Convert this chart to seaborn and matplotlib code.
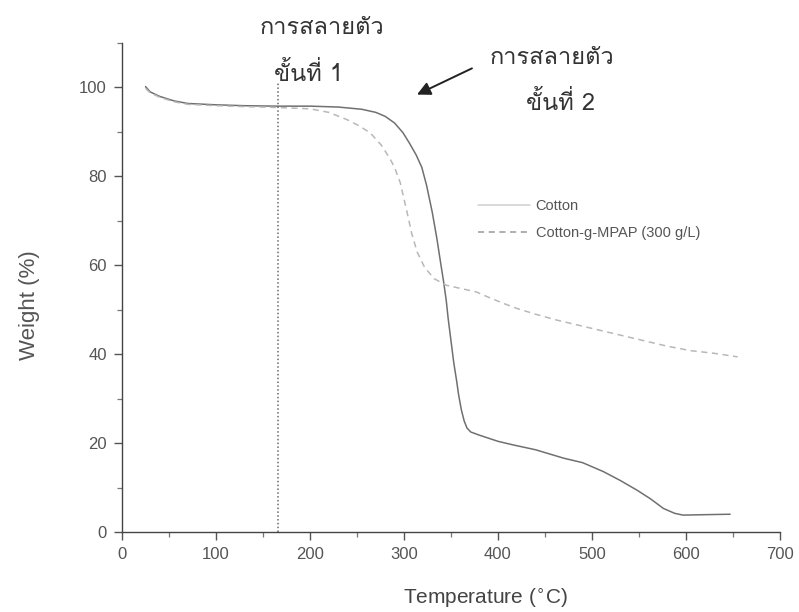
import numpy as np
import pandas as pd
import matplotlib
matplotlib.use("Agg")
import matplotlib.pyplot as plt
from matplotlib import font_manager
from matplotlib.ticker import MultipleLocator
import seaborn as sns

# TGA curves: temperature (°C) and remaining weight (%)
cotton_temp = [25, 30, 40, 55, 70, 100, 130, 165, 200, 230, 255, 270, 280, 290,
               299, 306, 313, 319, 324, 330, 335, 339, 342, 345, 347, 350, 353,
               356, 358, 361, 364, 367, 371, 380, 400, 416, 440, 470, 490, 512,
               530, 548, 562, 576, 588, 597, 620, 647]
cotton_weight = [100.2, 99.0, 98.0, 97.0, 96.4, 96.1, 95.9, 95.8, 95.8, 95.6,
                 95.1, 94.4, 93.5, 92.0, 89.8, 87.4, 84.8, 82.0, 78.0, 72.0,
                 66.0, 60.5, 56.5, 52.0, 48.0, 43.0, 38.0, 34.0, 31.0, 27.5,
                 25.0, 23.4, 22.5, 21.8, 20.4, 19.6, 18.5, 16.6, 15.6, 13.6,
                 11.6, 9.4, 7.5, 5.3, 4.2, 3.8, 3.9, 4.0]

mpap_temp = [25, 30, 40, 55, 70, 100, 130, 165, 200, 220, 239, 252, 264, 276,
             285, 290, 296, 301, 305, 308, 314, 322, 332, 345, 360, 377, 390,
             405, 420, 440, 462, 490, 520, 550, 580, 605, 630, 655]
mpap_weight = [99.8, 98.8, 97.8, 96.8, 96.2, 95.9, 95.7, 95.5, 95.2, 94.4,
               92.8, 91.4, 89.8, 87.0, 84.0, 82.0, 78.6, 74.0, 70.3, 67.3,
               63.0, 59.5, 57.0, 55.5, 54.8, 54.0, 52.8, 51.5, 50.3, 49.0,
               47.7, 46.3, 44.8, 43.3, 41.8, 40.8, 40.2, 39.4]

series_labels = ["Cotton", "Cotton-g-MPAP (300 g/L)"]
stage_temp = 166          # boundary between the two decomposition stages
stage1_label = ["การสลายตัว", "ขั้นที่ 1"]
stage2_label = ["การสลายตัว", "ขั้นที่ 2"]

x_ticks = [0, 100, 200, 300, 400, 500, 600, 700]
y_ticks = [0, 20, 40, 60, 80, 100]


def find_thai_family():
    """Return the name of an installed font that covers Thai script."""
    try:
        from fontTools.ttLib import TTFont
    except Exception:
        return "DejaVu Sans"
    for entry in font_manager.fontManager.ttflist:
        try:
            font = TTFont(entry.fname, fontNumber=0, lazy=True)
            cmap = font.getBestCmap() or {}
            if 0x0E01 in cmap and 0x0E31 in cmap and 0x0E49 in cmap:
                return entry.name
        except Exception:
            continue
    return "DejaVu Sans"


sns.set_theme(style="ticks")
plt.rcParams["font.family"] = ["Liberation Sans", "DejaVu Sans"]
thai_family = find_thai_family()
narrow = ["Liberation Sans Narrow", "Liberation Sans", "DejaVu Sans"]

df_cotton = pd.DataFrame({"T": cotton_temp, "W": cotton_weight})
df_mpap = pd.DataFrame({"T": mpap_temp, "W": mpap_weight})

fig = plt.figure(figsize=(7.99, 6.12), dpi=100)
ax = fig.add_axes([0.1527, 0.1307, 0.8235, 0.799])

sns.lineplot(data=df_cotton, x="T", y="W", ax=ax, sort=False, estimator=None,
             color="#707070", linewidth=1.1, label=series_labels[0])
sns.lineplot(data=df_mpap, x="T", y="W", ax=ax, sort=False, estimator=None,
             color="#b8b8b8", linewidth=1.1, linestyle=(0, (4, 3)),
             label=series_labels[1])

# stage boundary
ax.axvline(stage_temp, ymin=0, ymax=101 / 110, color="#6a6a6a",
           linestyle=(0, (1, 1.5)), linewidth=1.1)

ax.set_xlim(0, 700)
ax.set_ylim(0, 110)
ax.set_xticks(x_ticks)
ax.set_yticks(y_ticks)
ax.xaxis.set_minor_locator(MultipleLocator(50))
ax.yaxis.set_minor_locator(MultipleLocator(10))
ax.tick_params(which="major", direction="out", length=6, width=1,
               color="#555555", labelcolor="#555555", labelsize=12, pad=5)
ax.tick_params(which="minor", direction="out", length=3.5, width=0.9,
               color="#777777")
for lab in ax.get_xticklabels() + ax.get_yticklabels():
    lab.set_family(narrow)

for side in ("top", "right"):
    ax.spines[side].set_visible(False)
for side in ("left", "bottom"):
    ax.spines[side].set_color("#444444")
    ax.spines[side].set_linewidth(1.0)

ax.set_xlabel("Temperature ($^{\\circ}$C)", fontsize=15, color="#444444",
              family=narrow)
ax.xaxis.set_label_coords(0.552, -0.112)
ax.set_ylabel("Weight (%)", fontsize=16, color="#555555")
ax.yaxis.set_label_coords(-0.125, 0.464)

# decomposition stage annotations
thai = [thai_family, "DejaVu Sans"]
ax.text(213, 113.5, stage1_label[0], ha="center", va="center", fontsize=17,
        color="#333333", family=thai, clip_on=False)
ax.text(198, 103, stage1_label[1], ha="center", va="center", fontsize=17,
        color="#333333", family=thai, clip_on=False)
ax.text(457, 106.8, stage2_label[0], ha="center", va="center", fontsize=17,
        color="#333333", family=thai, clip_on=False)
ax.text(466, 96.6, stage2_label[1], ha="center", va="center", fontsize=17,
        color="#333333", family=thai, clip_on=False)
ax.annotate("", xy=(313.8, 98.4), xytext=(372.3, 104.3),
            arrowprops=dict(arrowstyle="-|>", color="#222222", lw=1.4,
                            mutation_scale=20, shrinkA=0, shrinkB=0),
            annotation_clip=False)

leg = ax.legend(loc="center left", bbox_to_anchor=(0.541, 0.639),
                frameon=False, fontsize=10.5, handlelength=3.6,
                handletextpad=0.35, labelspacing=0.85, borderpad=0,
                borderaxespad=0)
for txt in leg.get_texts():
    txt.set_color("#555555")
leg.get_lines()[0].set_color("#d0d0d0")
leg.get_lines()[1].set_color("#9a9a9a")

fig.savefig("out.png", dpi=100, facecolor="white")
